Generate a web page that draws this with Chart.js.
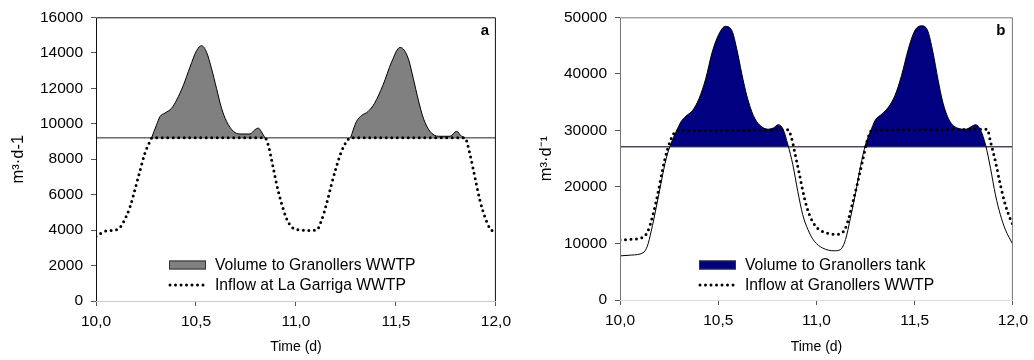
<!DOCTYPE html>
<html>
<head>
<meta charset="utf-8">
<script src="https://cdn.jsdelivr.net/npm/chart.js@4.4.1/dist/chart.umd.min.js"></script>
<style>
  body { margin: 0; background: #fff; }
  .wrap { position: absolute; top: 0; width: 517px; height: 360px; }
</style>
</head>
<body>
<div class="wrap" style="left:0"><canvas id="chartA" width="517" height="360"></canvas></div>
<div class="wrap" style="left:517px"><canvas id="chartB" width="517" height="360"></canvas></div>
<script>
// --- panel a: La Garriga ---
const timeInflowA = [10.0, 10.05, 10.11, 10.137, 10.17, 10.195, 10.22, 10.245, 10.27, 10.28, 10.5, 10.845, 10.86, 10.883, 10.903, 10.928, 10.953, 10.978, 11.02, 11.06, 11.103, 11.128, 11.153, 11.178, 11.203, 11.228, 11.26, 11.273, 11.5, 11.845, 11.87, 11.895, 11.92, 11.945, 11.97, 12.0];
const inflowA = [3650, 3950, 4050, 4450, 5300, 6300, 7350, 8350, 9000, 9200, 9200, 9200, 8850, 7700, 6600, 5500, 4650, 4180, 4000, 3980, 4000, 4550, 5480, 6600, 7600, 8450, 9100, 9200, 9200, 9200, 8280, 6980, 5680, 4740, 4100, 3850];
const timeVolumeA = [10.278, 10.303, 10.32, 10.345, 10.378, 10.403, 10.437, 10.47, 10.503, 10.528, 10.553, 10.578, 10.603, 10.628, 10.653, 10.687, 10.72, 10.77, 10.795, 10.812, 10.828, 10.845, 11.0, 11.273, 11.303, 11.328, 11.36, 11.393, 11.435, 11.478, 11.52, 11.537, 11.562, 11.587, 11.612, 11.637, 11.67, 11.712, 11.77, 11.803, 11.828, 11.845];
const volumeA = [9200, 9940, 10400, 10600, 10870, 11330, 12170, 13190, 14120, 14400, 14030, 13100, 11980, 10870, 10130, 9570, 9420, 9420, 9660, 9750, 9530, 9200, null, 9200, 10130, 10460, 10680, 11150, 12170, 13470, 14300, 14210, 13660, 12540, 11330, 10310, 9570, 9290, 9290, 9570, 9290, 9200];
const limitA = [9200, 9200];

// --- panel b: Granollers ---
const timeInflowB = [10.0, 10.059, 10.117, 10.142, 10.168, 10.193, 10.218, 10.243, 10.268, 10.293, 10.5, 10.855, 10.872, 10.889, 10.914, 10.939, 10.964, 10.997, 11.048, 11.098, 11.132, 11.157, 11.182, 11.207, 11.232, 11.257, 11.282, 11.5, 11.869, 11.886, 11.911, 11.936, 11.961, 11.987, 12.0];
const inflowB = [10600, 10750, 11100, 12200, 15100, 18900, 23300, 26800, 29100, 30000, 30000, 30100, 28800, 26200, 22100, 18000, 15100, 13000, 11900, 11600, 11900, 13600, 16900, 20400, 24200, 28000, 30000, 30100, 30200, 28000, 24500, 20400, 16900, 14300, 13300];
const timeVolumeB = [10.0, 10.059, 10.117, 10.139, 10.159, 10.184, 10.21, 10.235, 10.26, 10.285, 10.31, 10.335, 10.369, 10.402, 10.436, 10.469, 10.503, 10.536, 10.57, 10.595, 10.62, 10.645, 10.679, 10.712, 10.754, 10.78, 10.805, 10.83, 10.855, 10.88, 10.905, 10.93, 10.956, 10.989, 11.031, 11.09, 11.123, 11.148, 11.173, 11.199, 11.224, 11.249, 11.274, 11.299, 11.333, 11.366, 11.4, 11.433, 11.467, 11.5, 11.534, 11.564, 11.593, 11.618, 11.643, 11.676, 11.718, 11.76, 11.785, 11.81, 11.836, 11.861, 11.886, 11.911, 11.936, 11.961, 12.0];
const volumeB = [7800, 7950, 8350, 9500, 12200, 16300, 20900, 25000, 27700, 29700, 31500, 32500, 33500, 35600, 39100, 43800, 47000, 48400, 47600, 44300, 40000, 36200, 32600, 30900, 30200, 30400, 31000, 30200, 27400, 23900, 19200, 15100, 12500, 10400, 9200, 8700, 8950, 10700, 14500, 18900, 23600, 27400, 29700, 31800, 32900, 34100, 36200, 39700, 44300, 47600, 48500, 47800, 43800, 39100, 35000, 31800, 30400, 30200, 30600, 31000, 30000, 27400, 23300, 18600, 15100, 12500, 9800];
const limitB = [27100, 27100];

const timeRange = [10, 12];

function pts(xs, ys) {
  return xs.map((x, i) => ({ x: x, y: ys[i] }));
}

const FONT = 'Liberation Sans, Arial, sans-serif';

// frame, panel letter and legend inside the plot
const decorPlugin = {
  id: 'decor',
  afterDatasetsDraw(chart, args, opts) {
    const { ctx, chartArea: a } = chart;
    ctx.save();
    ctx.lineWidth = 1;
    ctx.strokeStyle = opts.bottomColor;
    ctx.beginPath();
    ctx.moveTo(a.left, a.bottom + 0.5);
    ctx.lineTo(a.right, a.bottom + 0.5);
    ctx.stroke();
    ctx.strokeStyle = opts.frameColor;
    ctx.beginPath();
    ctx.moveTo(a.left + 0.5, a.bottom);
    ctx.lineTo(a.left + 0.5, a.top + 0.5);
    ctx.lineTo(a.right - 0.5, a.top + 0.5);
    ctx.lineTo(a.right - 0.5, a.bottom);
    ctx.stroke();

    ctx.fillStyle = '#000';
    ctx.font = 'bold 15px ' + FONT;
    ctx.textAlign = 'center';
    ctx.textBaseline = 'middle';
    ctx.fillText(opts.letter, a.right - opts.letterDx, a.top + 14);

    // legend
    const lx = a.left + opts.legendDx;
    const y1 = 265, y2 = 285;
    ctx.fillStyle = opts.fill;
    ctx.fillRect(lx, y1 - 4.5, 37, 9);
    ctx.strokeStyle = '#333';
    ctx.strokeRect(lx + 0.5, y1 - 4, 36, 8);
    ctx.strokeStyle = '#000';
    ctx.lineWidth = 3;
    ctx.lineCap = 'round';
    ctx.setLineDash([0, 5.5]);
    ctx.beginPath();
    ctx.moveTo(lx + 1, y2);
    ctx.lineTo(lx + 37, y2);
    ctx.stroke();
    ctx.setLineDash([]);
    ctx.fillStyle = '#000';
    ctx.font = '15.7px ' + FONT;
    ctx.textAlign = 'left';
    ctx.fillText(chart.data.datasets[1].label, lx + 46, y1 + 1);
    ctx.fillText(chart.data.datasets[0].label, lx + 46, y2 + 1);
    ctx.restore();
  }
};

function makeChart(id, p) {
  new Chart(document.getElementById(id), {
    type: 'line',
    data: {
      datasets: [
        {
          label: p.inflowLabel,
          data: pts(p.tInflow, p.inflow),
          borderColor: '#000',
          borderWidth: 3,
          borderDash: [0, 5.5],
          borderCapStyle: 'round',
          pointRadius: 0,
          fill: false,
          cubicInterpolationMode: 'monotone'
        },
        {
          label: p.volumeLabel,
          data: pts(p.tVolume, p.volume),
          borderColor: '#000',
          borderWidth: 1,
          pointRadius: 0,
          spanGaps: false,
          cubicInterpolationMode: 'monotone',
          fill: { target: { value: p.limit[0] }, above: p.fill, below: 'rgba(0,0,0,0)' }
        },
        {
          label: 'limit',
          data: pts(timeRange, p.limit),
          borderColor: p.limitColor,
          borderWidth: p.limitWidth,
          pointRadius: 0,
          fill: false
        }
      ]
    },
    options: {
      responsive: false,
      animation: false,
      devicePixelRatio: 1,
      layout: { padding: { left: 0, right: p.padRight, top: p.padTop, bottom: 0 } },
      plugins: {
        legend: { display: false },
        tooltip: { enabled: false },
        decor: p.decor
      },
      scales: {
        x: {
          type: 'linear',
          min: 10,
          max: 12,
          afterFit: s => { s.height = p.xHeight; },
          border: { display: false },
          grid: { drawOnChartArea: false, tickLength: 5, color: '#555' },
          ticks: {
            stepSize: 0.5,
            padding: 6,
            color: '#000',
            font: { family: FONT, size: 15.5 },
            callback: v => v.toFixed(1).replace('.', ',')
          },
          title: {
            display: true,
            text: 'Time (d)',
            color: '#000',
            font: { family: FONT, size: 14 },
            padding: { top: 0, bottom: 4 }
          }
        },
        y: {
          min: 0,
          max: p.yMax,
          afterFit: s => { s.width = p.yWidth; },
          border: { display: false },
          grid: { drawOnChartArea: false, tickLength: 5, color: '#555' },
          ticks: {
            stepSize: p.yStep,
            padding: 8,
            color: '#000',
            font: { family: FONT, size: 15.5 },
            callback: v => String(v)
          },
          title: {
            display: true,
            text: p.yTitle,
            color: '#000',
            font: { family: FONT, size: 16.5 },
            padding: { top: p.yTitlePad, bottom: 0 }
          }
        }
      }
    },
    plugins: [decorPlugin]
  });
}

makeChart('chartA', {
  inflowLabel: 'Inflow at La Garriga WWTP',
  volumeLabel: 'Volume to Granollers WWTP',
  tInflow: timeInflowA, inflow: inflowA,
  tVolume: timeVolumeA, volume: volumeA,
  limit: limitA, limitColor: '#222', limitWidth: 1,
  fill: '#808080',
  yMax: 16000, yStep: 2000, yTitle: 'm³·d-1', yTitlePad: 9,
  yWidth: 96, xHeight: 59, padRight: 21, padTop: 15,
  decor: { letter: 'a', letterDx: 11, legendDx: 73, fill: '#808080', frameColor: '#111', bottomColor: '#ccc' }
});

makeChart('chartB', {
  inflowLabel: 'Inflow at Granollers WWTP',
  volumeLabel: 'Volume to Granollers tank',
  tInflow: timeInflowB, inflow: inflowB,
  tVolume: timeVolumeB, volume: volumeB,
  limit: limitB, limitColor: '#555', limitWidth: 1.6,
  fill: '#000080',
  yMax: 50000, yStep: 10000, yTitle: 'm³·d⁻¹', yTitlePad: 20,
  yWidth: 103, xHeight: 60, padRight: 16, padTop: 14,
  decor: { letter: 'b', letterDx: 12, legendDx: 79, fill: '#000080', frameColor: '#777', bottomColor: '#ddd' }
});
</script>
</body>
</html>
